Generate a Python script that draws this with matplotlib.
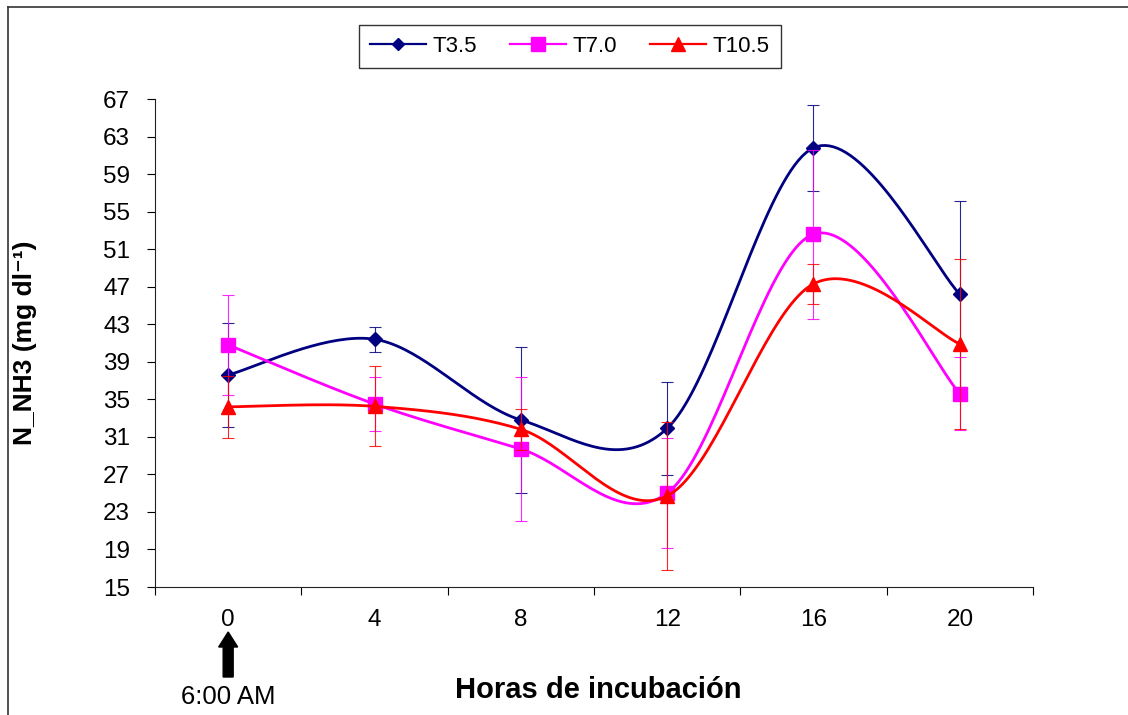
import numpy as np
import matplotlib
matplotlib.use("Agg")
import matplotlib.pyplot as plt
from matplotlib.lines import Line2D
from matplotlib.patches import FancyArrow
from matplotlib.transforms import IdentityTransform

plt.rcParams['font.family'] = ['Liberation Sans', 'DejaVu Sans']

##### datos: N-NH3 por hora de incubacion
horas = ['0', '4', '8', '12', '16', '20']
t35 = [37.6, 41.4, 32.8, 31.9, 61.8, 46.2]
t35_err = [5.5, 1.35, 7.8, 4.95, 4.6, 9.9]
t70 = [40.8, 34.5, 29.7, 25.0, 52.6, 35.6]
t70_err = [5.3, 2.85, 7.7, 5.85, 9.0, 3.9]
t105 = [34.2, 34.25, 31.8, 24.7, 47.3, 40.9]
t105_err = [3.3, 4.25, 2.2, 7.85, 2.15, 9.1]
series = ["T3.5", "T7.0", "T10.5"]


def suavizar(x, y, n=40):
    """curva suave tipo Excel (Bezier con tangentes Catmull-Rom)"""
    x = np.asarray(x, float)
    y = np.asarray(y, float)
    px = np.concatenate([[x[0]], x, [x[-1]]])
    py = np.concatenate([[y[0]], y, [y[-1]]])
    t = np.linspace(0, 1, n)
    xs, ys = [], []
    for i in range(1, len(px) - 2):
        p0 = np.array([px[i], py[i]])
        p3 = np.array([px[i + 1], py[i + 1]])
        p1 = p0 + (np.array([px[i + 1], py[i + 1]]) - np.array([px[i - 1], py[i - 1]])) / 6
        p2 = p3 - (np.array([px[i + 2], py[i + 2]]) - np.array([px[i], py[i]])) / 6
        b = ((1 - t) ** 3)[:, None] * p0 + (3 * (1 - t) ** 2 * t)[:, None] * p1 \
            + (3 * (1 - t) * t ** 2)[:, None] * p2 + (t ** 3)[:, None] * p3
        xs.append(b[:, 0])
        ys.append(b[:, 1])
    return np.concatenate(xs), np.concatenate(ys)


fig = plt.figure(figsize=(11.28, 7.15), dpi=100, facecolor='w')
ax = fig.add_axes([155 / 1128, 1 - 587 / 715, 878 / 1128, 488 / 715])

xpos = np.arange(len(horas))
estilos = [
    (t35, t35_err, '#000080', 'D', 6.8),
    (t70, t70_err, '#FF00FF', 's', 10.5),
    (t105, t105_err, '#FF0000', '^', 10.5),
]

handles = []
for (vals, err, col, mk, ms), nombre in zip(estilos, series):
    ax.errorbar(xpos, vals, yerr=err, fmt='none', ecolor=col, elinewidth=0.8,
                capsize=4.5, capthick=0.8, alpha=0.85)
    sx, sy = suavizar(xpos, vals)
    ax.plot(sx, sy, color=col, lw=2.0, solid_capstyle='round')
    ax.plot(xpos, vals, ls='none', marker=mk, ms=ms, color=col, mec=col)
    handles.append(Line2D([], [], color=col, lw=1.6, marker=mk, ms=ms * 0.95, mec=col))

ax.set_xlim(-0.5, 5.5)
ax.set_ylim(15, 67)
ax.set_yticks(np.arange(15, 68, 4))
ax.set_xticks(xpos)
ax.set_xticklabels(horas)
ax.set_xticks(np.arange(-0.5, 5.6, 1), minor=True)
ax.tick_params(axis='x', which='major', length=0, pad=16, labelsize=17.5)
ax.tick_params(axis='x', which='minor', length=6, width=0.8, direction='out')
ax.tick_params(axis='y', length=6, width=0.8, pad=12, labelsize=17.5)
for lado in ['top', 'right']:
    ax.spines[lado].set_visible(False)
for lado in ['left', 'bottom']:
    ax.spines[lado].set_linewidth(0.8)
    ax.spines[lado].set_color('#222222')

ax.set_ylabel('N_NH3 (mg dl⁻¹)', fontsize=19, fontweight='bold')
ax.yaxis.set_label_coords(-0.134, 0.5)
fig.text(598 / 1128, 1 - 690 / 715, 'Horas de incubación', fontsize=21,
         fontweight='bold', ha='center', va='center')

# flecha de las 6:00 AM bajo el cero
x0 = ax.transData.transform((0, 15))[0]
fig.add_artist(FancyArrow(x0, 715 - 677, 0, 45, width=10, head_width=19,
                          head_length=15, length_includes_head=True,
                          color='black', transform=IdentityTransform()))
fig.text(x0 / 1128, 1 - 697 / 715, '6:00 AM', fontsize=18.5, ha='center', va='center')

leg = fig.legend(handles, series, loc='center', bbox_to_anchor=(570 / 1128, 1 - 46.5 / 715),
                 ncol=3, fontsize=16, frameon=True, fancybox=False, framealpha=1,
                 edgecolor='#333333', handlelength=2.5, handletextpad=0.3,
                 columnspacing=1.5, borderpad=0.5)
leg.get_frame().set_linewidth(1.0)

# borde del area del grafico
fig.add_artist(Line2D([8 / 1128, 1], [1 - 7 / 715, 1 - 7 / 715], color='#333333', lw=1.2,
                      transform=fig.transFigure))
fig.add_artist(Line2D([8 / 1128, 8 / 1128], [0, 1 - 7 / 715], color='#333333', lw=1.2,
                      transform=fig.transFigure))

plt.savefig("out.png", dpi=100)
